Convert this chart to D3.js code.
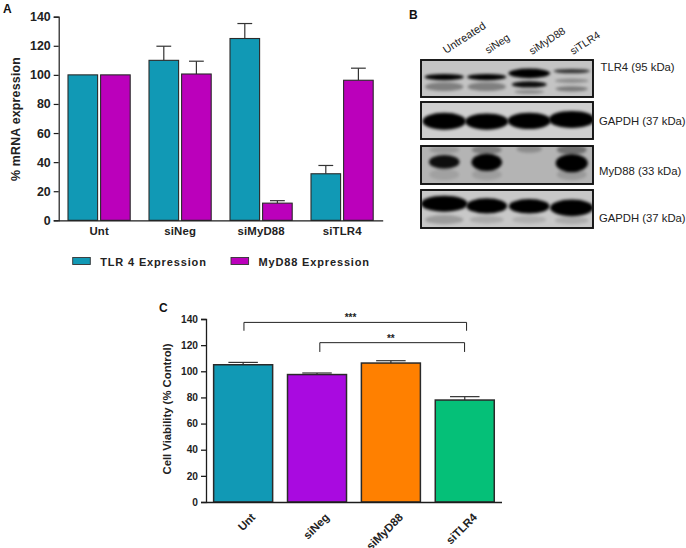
<!DOCTYPE html>
<html><head><meta charset="utf-8">
<script src="https://cdn.jsdelivr.net/npm/d3@7"></script>
<style>html,body{margin:0;background:#fff}svg{display:block;font-family:"Liberation Sans",Arial,sans-serif}</style>
</head><body><svg id="c" width="686" height="548"></svg>
<script>
// Panel A
const groupsA=["Unt","siNeg","siMyD88","siTLR4"];
const tlr4Mean=[100,110,125,32];
const tlr4Top=[100,119.7,135.3,37.7];
const myd88Mean=[100,100.6,11.8,96.3];
const myd88Top=[100,109.4,13.5,104.6];
const legendNames=["TLR 4 Expression","MyD88 Expression"];
const yTicks=[0,20,40,60,80,100,120,140];
// Panel C
const groupsC=["Unt","siNeg","siMyD88","siTLR4"];
const viability=[105,97.5,106.3,78];
const viabilityTop=[106.8,98.7,108.1,80.6];
const viabilityColors=["#1199b5","#a90ae0","#ff8000","#05c078"];
const sigFrom=[0,1], sigTo=[3,3], sigLevel=[137.4,121.9], sigDrop=[131,114.8], sigText=["***","**"];
// Panel B: blot readings
const lanes=["Untreated","siNeg","siMyD88","siTLR4"];
const blotLabels=["TLR4 (95 kDa)","GAPDH (37 kDa)","MyD88 (33 kDa)","GAPDH (37 kDa)"];
const blotBack=["#c4c4c4","#cfcfcf","#b4b4b4","#c8c8c8"];
// [lane, migration 0-1, width fraction of lane, thickness fraction of panel, density 0-1]
const blot0=[[0,.46,.92,.17,1],[1,.46,.92,.17,1],[2,.36,.98,.26,1],[3,.30,.86,.12,.75],
 [2,.66,.82,.17,.95],[0,.72,.9,.24,.35],[1,.72,.9,.24,.35],[2,.86,.7,.1,.3],[3,.56,.8,.12,.28],[3,.78,.76,.14,.38]];
const blot1=[[0,.52,1.02,.46,1],[1,.53,1.02,.44,1],[2,.51,1.02,.44,1],[3,.47,1.08,.46,1]];
const blot2=[[0,.42,.72,.36,.92],[1,.43,.72,.46,1],[3,.45,.76,.48,1],[0,.1,.7,.2,.15],[1,.1,.7,.24,.3],[2,.08,.6,.2,.22],[3,.1,.7,.26,.38],[0,.75,.7,.3,.1],[1,.75,.7,.3,.12],[3,.75,.7,.3,.14]];
const blot3=[[0,.36,1.1,.42,1],[1,.42,.96,.4,1],[2,.43,.96,.38,1],[3,.47,1.02,.44,1],[0,.78,.9,.24,.22],[1,.78,.8,.2,.14],[2,.78,.8,.2,.12],[3,.8,.8,.2,.14]];
const blots=[blot0,blot1,blot2,blot3];

const svg=d3.select("#c");
const defs=svg.append("defs");
defs.append("filter").attr("id","soft").attr("x","-40%").attr("y","-80%").attr("width","180%").attr("height","260%")
  .append("feGaussianBlur").attr("stdDeviation",1.5);
const ink="#1c1c1c";

function yAxis(g,y,size,w){
  g.call(d3.axisLeft(y).tickValues(yTicks).tickSize(5).tickPadding(3));
  g.select(".domain").attr("stroke",ink).attr("stroke-width",w);
  g.selectAll(".tick line").attr("stroke",ink).attr("stroke-width",w);
  g.selectAll("text").attr("font-family","Liberation Sans").attr("font-size",size).attr("font-weight","bold").attr("fill","#222");
}
function bars(g,data,x,y,w,color,sw){
  const base=y(0);
  g.selectAll(null).data(data).join("line").attr("x1",d=>d.cx).attr("x2",d=>d.cx)
    .attr("y1",d=>y(d.top)).attr("y2",d=>y(d.v)).attr("stroke","#333").attr("stroke-width",1.2);
  g.selectAll(null).data(data.filter(d=>d.top>d.v)).join("line").attr("x1",d=>d.cx-w/4).attr("x2",d=>d.cx+w/4)
    .attr("y1",d=>y(d.top)).attr("y2",d=>y(d.top)).attr("stroke","#333").attr("stroke-width",1.2);
  g.selectAll(null).data(data).join("rect").attr("x",d=>d.cx-w/2).attr("width",w)
    .attr("y",d=>y(d.v)).attr("height",d=>base-y(d.v)).attr("fill",d=>d.color).attr("stroke","#2a2a2a").attr("stroke-width",sw);
}

// ----- A -----
const xA=d3.scaleBand().domain(groupsA).range([58.7,382.7]);
const yA=d3.scaleLinear().domain([0,140]).range([220.3,16.7]);
const colA=["#1199b5","#bb00bb"];
const gA=svg.append("g");
const dataA=[];
groupsA.forEach((g,i)=>{
  dataA.push({cx:xA(g)+xA.bandwidth()/2-16.4,v:tlr4Mean[i],top:tlr4Top[i],color:colA[0]});
  dataA.push({cx:xA(g)+xA.bandwidth()/2+16.2,v:myd88Mean[i],top:myd88Top[i],color:colA[1]});
});
bars(gA,dataA,xA,yA,29.6,null,1.1);
gA.append("g").attr("transform","translate(58.7,0)").call(yAxis,yA,12.4,1.2);
const axA=gA.append("g").attr("transform","translate(0,220.3)").call(d3.axisBottom(xA).tickSize(0).tickPadding(7));
axA.select(".domain").attr("stroke",ink).attr("stroke-width",1.2);
axA.selectAll("text").attr("font-family","Liberation Sans").attr("font-size",11.4).attr("font-weight","bold").attr("fill","#222").attr("letter-spacing",.15);
svg.append("text").attr("transform","translate(20,119) rotate(-90)").attr("text-anchor","middle")
  .attr("font-size",12.4).attr("font-weight","bold").attr("fill","#222").attr("letter-spacing",.2).text("% mRNA expression");
const legX=d3.scalePoint().domain(legendNames).range([72.7,231]);
legendNames.forEach((n,i)=>{
  svg.append("rect").attr("x",legX(n)).attr("y",257.5).attr("width",17.6).attr("height",7).attr("fill",colA[i]).attr("stroke","#333").attr("stroke-width",.9);
  svg.append("text").attr("x",legX(n)+27.5).attr("y",266).attr("font-size",11).attr("font-weight","bold").attr("fill","#222").attr("letter-spacing",.85).text(n);
});

// ----- C -----
const xC=d3.scaleBand().domain(groupsC).range([206,501.5]);
const yC=d3.scaleLinear().domain([0,140]).range([502,319]);
const gC=svg.append("g");
const dataC=groupsC.map((g,i)=>({cx:xC(g)+xC.bandwidth()/2+.2,v:viability[i],top:viabilityTop[i],color:viabilityColors[i]}));
bars(gC,dataC,xC,yC,59,null,1.5);
gC.append("g").attr("transform","translate(206,0)").call(yAxis,yC,10.2,1.3);
const axC=gC.append("g").attr("transform","translate(0,502)").call(d3.axisBottom(xC).tickSize(0));
axC.select(".domain").attr("stroke",ink).attr("stroke-width",1.3);
axC.selectAll("text").attr("font-family","Liberation Sans").attr("font-size",11.4).attr("font-weight","bold").attr("fill","#222")
  .attr("text-anchor","end").attr("dy",0).attr("transform","translate(11,14) rotate(-45)");
svg.append("text").attr("transform","translate(171,409) rotate(-90)").attr("text-anchor","middle")
  .attr("font-size",11.3).attr("font-weight","bold").attr("fill","#222").text("Cell Viability (% Control)");
sigLevel.forEach((lv,i)=>{
  const x1=xC(groupsC[sigFrom[i]])+xC.bandwidth()/2+(i?3:1), x2=xC(groupsC[sigTo[i]])+xC.bandwidth()/2+(i?0:2);
  const p=d3.path();p.moveTo(x1,yC(sigDrop[i]));p.lineTo(x1,yC(lv));p.lineTo(x2,yC(lv));p.lineTo(x2,yC(sigDrop[i]));
  svg.append("path").attr("d",p).attr("fill","none").attr("stroke","#222").attr("stroke-width",1);
  svg.append("text").attr("x",i?390.8:350.5).attr("y",yC(lv)-1).attr("text-anchor","middle").attr("font-size",10).attr("font-weight","bold").attr("fill","#222").text(sigText[i]);
});

// ----- B -----
const xB=d3.scaleBand().domain(d3.range(4)).range([424,594]);
const panelTop=[60,102,146,190], panelH=[37,37,38,38];
blots.forEach((bands,p)=>{
  const g=svg.append("g");
  const id="clip"+p;
  defs.append("clipPath").attr("id",id).append("rect").attr("x",421).attr("y",panelTop[p]).attr("width",172).attr("height",panelH[p]);
  const inner=g.append("g").attr("clip-path",`url(#${id})`);
  inner.append("rect").attr("x",421).attr("y",panelTop[p]).attr("width",172).attr("height",panelH[p]).attr("fill",blotBack[p]);
  const m=d3.scaleLinear().domain([0,1]).range([panelTop[p],panelTop[p]+panelH[p]]);
  const sorted=[...bands].sort((a,b)=>a[4]-b[4]);
  inner.selectAll(null).data(sorted).join("ellipse")
    .attr("cx",d=>xB(d[0])+xB.bandwidth()/2-1).attr("cy",d=>m(d[1]))
    .attr("rx",d=>d[2]*xB.bandwidth()/2).attr("ry",d=>d[3]*panelH[p]/2)
    .attr("fill","#050505").attr("opacity",d=>d[4]).attr("filter","url(#soft)");
  g.append("rect").attr("x",421).attr("y",panelTop[p]).attr("width",172).attr("height",panelH[p]).attr("fill","none").attr("stroke","#111").attr("stroke-width",1.9);
});
const blotLabelX=[600.5,599,599,599], blotLabelY=[71,125,175,222];
blotLabels.forEach((t,i)=>svg.append("text").attr("x",blotLabelX[i]).attr("y",blotLabelY[i]).attr("font-size",11.3).attr("fill","#222").text(t));
const laneLabelX=[446,488,532,573], laneLabelY=[54,54,55,55], laneSize=[11,10.5,10.5,10.5];
lanes.forEach((t,i)=>svg.append("text").attr("transform",`translate(${laneLabelX[i]},${laneLabelY[i]}) rotate(-33)`).attr("font-size",laneSize[i]).attr("fill","#222").text(t));

// Panel letters
[["A",3,12.5],["B",409,19],["C",159,312]].forEach(d=>svg.append("text").attr("x",d[1]).attr("y",d[2]).attr("font-size",12).attr("font-weight","bold").attr("fill","#111").text(d[0]));
</script></body></html>
